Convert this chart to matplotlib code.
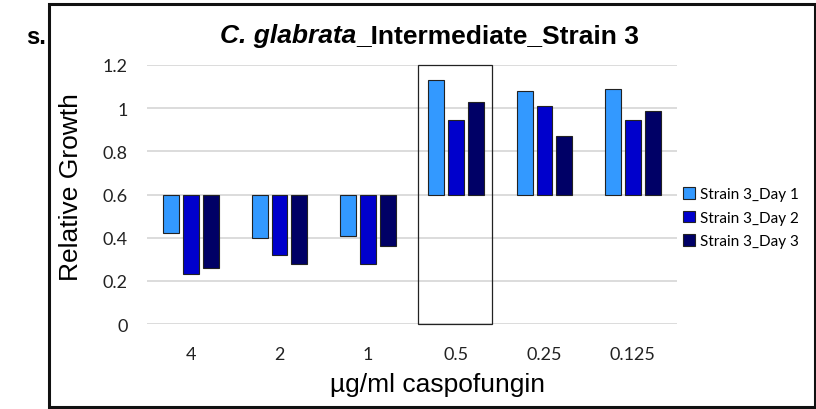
import matplotlib
matplotlib.use('Agg')
from matplotlib import pyplot as plt
from matplotlib.patches import Rectangle
import numpy as np

# datos
concentraciones = ['4', '2', '1', '0.5', '0.25', '0.125']
dia1 = [0.42, 0.40, 0.41, 1.13, 1.08, 1.09]
dia2 = [0.23, 0.32, 0.28, 0.945, 1.01, 0.945]
dia3 = [0.26, 0.28, 0.36, 1.03, 0.87, 0.985]
series = ['Strain 3_Day 1', 'Strain 3_Day 2', 'Strain 3_Day 3']
base = 0.6

colores = ['#3399FF', '#0000CC', '#000066']

fig = plt.figure(figsize=(8.16, 4.10), dpi=100)
ax = fig.add_axes([147 / 816, 1 - 325 / 410, 530 / 816, 259 / 410])

x = np.arange(len(concentraciones))
ancho = 0.18
paso = 0.225
for i, (vals, nombre) in enumerate(zip([dia1, dia2, dia3], series)):
    v = np.array(vals)
    ax.bar(x + (i - 1) * paso, v - base, bottom=base, width=ancho,
           color=colores[i], edgecolor='#222222', linewidth=0.8,
           label=nombre, zorder=3)

# recuadro alrededor de 0.5
ax.add_patch(Rectangle((2.57, 0), 0.84, 1.2, fill=False, edgecolor='#222222',
                       linewidth=0.9, zorder=4, clip_on=False))

ax.set_xlim(-0.5, len(concentraciones) - 0.5)
ax.set_ylim(0, 1.2)
ax.set_yticks([0, 0.2, 0.4, 0.6, 0.8, 1.0, 1.2])
ax.set_yticklabels(['0', '0.2', '0.4', '0.6', '0.8', '1', '1.2'])
ax.set_xticks(x)
ax.set_xticklabels(concentraciones)
ax.tick_params(length=0, labelsize=13)
ax.tick_params(axis='x', pad=16)
ax.tick_params(axis='y', pad=14)
for t in ax.get_xticklabels() + ax.get_yticklabels():
    t.set_family('Lato')
    t.set_color('#222222')
ax.grid(axis='y', color='#D9D9D9', linewidth=1.3, zorder=0)
for s in ax.spines.values():
    s.set_visible(False)

ax.set_xlabel('µg/ml caspofungin', fontsize=19, family='Liberation Sans')
ax.xaxis.set_label_coords((437 - 147) / 530, (325 - 385) / 259)
ax.xaxis.label.set_va('center')
ax.set_ylabel('Relative Growth', fontsize=19, family='Liberation Sans')
ax.yaxis.set_label_coords((71 - 147) / 530, (325 - 187) / 259)
ax.yaxis.label.set_va('center')

# titulo con parte en cursiva
t1 = fig.text(0.5, 0.5, 'C. glabrata', fontsize=19, fontweight='bold', style='italic',
              family='Liberation Sans')
t2 = fig.text(0.5, 0.5, '_Intermediate_Strain 3', fontsize=19, fontweight='bold',
              family='Liberation Sans')
fig.canvas.draw()
r = fig.canvas.get_renderer()
w1 = t1.get_window_extent(r).width
w2 = t2.get_window_extent(r).width
x0 = 430 - (w1 + w2) / 2
t1.set_position((x0 / 816, 1 - 43 / 410))
t2.set_position(((x0 + w1) / 816, 1 - 43 / 410))

fig.text(26 / 816, 1 - 44 / 410, 's.', fontsize=17, fontweight='bold', family='Liberation Sans')

ax.legend(loc='center left', bbox_to_anchor=(1.0, 0.41), frameon=False,
          handlelength=0.75, handleheight=0.75, handletextpad=0.35, labelspacing=0.62,
          borderaxespad=0.0, prop={'family': 'Lato', 'size': 11})

# marco exterior
fig.patches.append(Rectangle((49 / 816, 2 / 410), 0.999 - 49 / 816, 1 - 7 / 410,
                             transform=fig.transFigure, fill=False,
                             edgecolor='#111111', linewidth=2.2))

fig.savefig('out.png', dpi=100)
plt.close('all')
